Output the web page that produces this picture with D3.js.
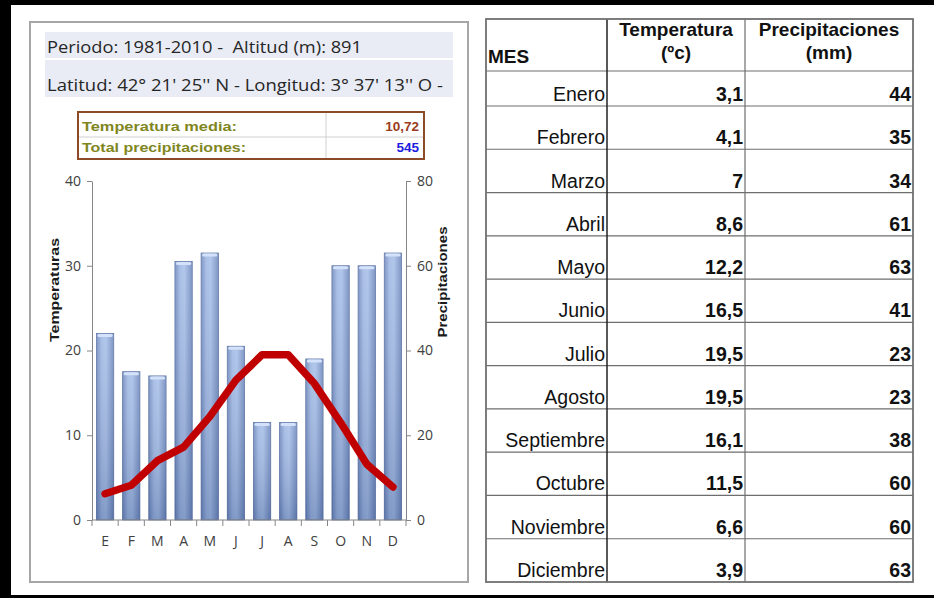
<!DOCTYPE html>
<html><head><meta charset="utf-8">
<script src="https://cdn.jsdelivr.net/npm/d3@7/dist/d3.min.js"></script>
<style>body{margin:0;background:#fff}svg{display:block}text{white-space:pre}</style>
</head><body>
<svg id="c" width="934" height="598"></svg>
<script>
const months = ["E","F","M","A","M ","J","J ","A ","S","O","N","D"];
const monthLabels = ["E","F","M","A","M","J","J","A","S","O","N","D"];
const monthNames = ["Enero","Febrero","Marzo","Abril","Mayo","Junio","Julio","Agosto","Septiembre","Octubre","Noviembre","Diciembre"];
const temperatures = [3.1,4.1,7,8.6,12.2,16.5,19.5,19.5,16.1,11.5,6.6,3.9];
const precipitation = [44,35,34,61,63,41,23,23,38,60,60,63];
const tempTicks = [0,10,20,30,40];
const precTicks = [0,20,40,60,80];
const infoLines = ["Periodo: 1981-2010 -  Altitud (m): 891","Latitud: 42° 21' 25'' N - Longitud: 3° 37' 13'' O -"];
const statLabels = ["Temperatura media:","Total precipitaciones:"];
const statValues = ["10,72","545"];

const svg = d3.select("#c");
const fmt = v => String(v).replace(".", ",");

// outer frame
svg.append("rect").attr("x",0).attr("y",0).attr("width",934).attr("height",5).attr("fill","#000");
svg.append("rect").attr("x",0).attr("y",0).attr("width",11).attr("height",598).attr("fill","#000");
svg.append("rect").attr("x",0).attr("y",595).attr("width",934).attr("height",3).attr("fill","#000");

// left panel
svg.append("rect").attr("x",30).attr("y",22).attr("width",438).attr("height",560)
  .attr("fill","#fff").attr("stroke","#a6a6a6").attr("stroke-width",2);
svg.append("rect").attr("x",45).attr("y",32).attr("width",408).attr("height",26).attr("fill","#e9ecf5");
svg.append("rect").attr("x",45).attr("y",60).attr("width",408).attr("height",37).attr("fill","#e9ecf5");
const infoW = [315,396], infoY = [53,91];
svg.selectAll("text.info").data(infoLines).join("text").attr("class","info")
  .attr("x",47).attr("y",(d,i)=>infoY[i]).attr("textLength",(d,i)=>infoW[i]).attr("lengthAdjust","spacingAndGlyphs")
  .attr("font-family","Open Sans, sans-serif").attr("font-size",16.5).attr("fill","#262626").text(d=>d);

// stats box
svg.append("line").attr("x1",79).attr("x2",424).attr("y1",137).attr("y2",137).attr("stroke","#d0d0d0");
svg.append("line").attr("x1",326).attr("x2",326).attr("y1",113).attr("y2",158).attr("stroke","#d0d0d0");
svg.append("rect").attr("x",78).attr("y",112).attr("width",346).attr("height",47)
  .attr("fill","none").attr("stroke","#8c4a26").attr("stroke-width",2);
const statY = [131,152], statW = [155,164];
svg.selectAll("text.sl").data(statLabels).join("text").attr("class","sl")
  .attr("x",82).attr("y",(d,i)=>statY[i]).attr("textLength",(d,i)=>statW[i]).attr("lengthAdjust","spacingAndGlyphs")
  .attr("font-family","Liberation Sans, Arial, sans-serif").attr("font-weight","bold").attr("font-size",13.5)
  .attr("fill","#80861e").text(d=>d);
svg.selectAll("text.sv").data(statValues).join("text").attr("class","sv")
  .attr("x",419).attr("y",(d,i)=>statY[i]).attr("text-anchor","end")
  .attr("font-family","Liberation Sans, Arial, sans-serif").attr("font-weight","bold").attr("font-size",13.5)
  .attr("fill",(d,i)=>i===0?"#9a3c1c":"#1c1ce0").text(d=>d);

// chart
const x = d3.scaleBand().domain(months).range([92,406]).paddingInner(0.34).paddingOuter(0.17);
const yT = d3.scaleLinear().domain([0,40]).range([520,181]);
const yP = d3.scaleLinear().domain([0,80]).range([520,181]);

const defs = svg.append("defs");
const gh = defs.append("linearGradient").attr("id","gh").attr("x1",0).attr("x2",1).attr("y1",0).attr("y2",0);
gh.append("stop").attr("offset","0%").attr("stop-color","#6f89bd");
gh.append("stop").attr("offset","30%").attr("stop-color","#a0b8e3");
gh.append("stop").attr("offset","55%").attr("stop-color","#a7bfe8");
gh.append("stop").attr("offset","100%").attr("stop-color","#6f89bd");
const gv = defs.append("linearGradient").attr("id","gv").attr("x1",0).attr("x2",0).attr("y1",0).attr("y2",1);
gv.append("stop").attr("offset","0%").attr("stop-color","#ffffff").attr("stop-opacity",0.12);
gv.append("stop").attr("offset","100%").attr("stop-color","#1c3468").attr("stop-opacity",0.25);

const bars = svg.append("g");
const bd = months.map((m,i)=>({m,v:precipitation[i]}));
bars.selectAll("rect.b").data(bd).join("rect").attr("class","b")
  .attr("x",d=>x(d.m)).attr("width",x.bandwidth()).attr("y",d=>yP(d.v)).attr("height",d=>yP(0)-yP(d.v))
  .attr("fill","url(#gh)").attr("stroke","#5b72a3").attr("stroke-width",0.8);
bars.selectAll("rect.o").data(bd).join("rect").attr("class","o")
  .attr("x",d=>x(d.m)).attr("width",x.bandwidth()).attr("y",d=>yP(d.v)).attr("height",d=>yP(0)-yP(d.v))
  .attr("fill","url(#gv)");
bars.selectAll("rect.t").data(bd).join("rect").attr("class","t")
  .attr("x",d=>x(d.m)+1).attr("width",x.bandwidth()-2).attr("y",d=>yP(d.v)+0.5).attr("height",3).attr("rx",1.5)
  .attr("fill","#d3e2fa");

// axes
const axCol = "#868686";
const gl = svg.append("g").attr("transform","translate(92,0)")
  .call(d3.axisLeft(yT).tickValues(tempTicks).tickSize(5).tickSizeOuter(0).tickPadding(6));
const gr = svg.append("g").attr("transform","translate(406,0)")
  .call(d3.axisRight(yP).tickValues(precTicks).tickSize(5).tickSizeOuter(0).tickPadding(6));
const gb = svg.append("g").attr("transform","translate(0,520)")
  .call(d3.axisBottom(x).tickSize(0).tickSizeOuter(0).tickPadding(16).tickFormat((d,i)=>monthLabels[i]));
[gl,gr,gb].forEach(g=>{
  g.selectAll("path,line").attr("stroke",axCol);
  g.selectAll("text").attr("font-family","Open Sans, sans-serif").attr("font-size",14).attr("fill","#404040");
});
gb.select("path.domain").attr("d","M92,0H406");
const bounds = d3.range(months.length+1).map(i=>x.range()[0]+i*x.step());
gb.selectAll("line.bt").data(bounds).join("line").attr("class","bt")
  .attr("x1",d=>d).attr("x2",d=>d).attr("y1",0).attr("y2",6).attr("stroke",axCol);

svg.append("text").attr("transform","translate(59,290) rotate(-90)").attr("text-anchor","middle")
  .attr("textLength",104).attr("lengthAdjust","spacingAndGlyphs")
  .attr("font-family","Liberation Sans, Arial, sans-serif").attr("font-weight","bold").attr("font-size",12.5)
  .attr("fill","#1a1a1a").text("Temperaturas");
svg.append("text").attr("transform","translate(447,282) rotate(-90)").attr("text-anchor","middle")
  .attr("textLength",111).attr("lengthAdjust","spacingAndGlyphs")
  .attr("font-family","Liberation Sans, Arial, sans-serif").attr("font-weight","bold").attr("font-size",12.5)
  .attr("fill","#1a1a1a").text("Precipitaciones");

// temperature line
const line = d3.line().x((d,i)=>x(months[i])+x.bandwidth()/2).y(d=>yT(d));
svg.append("path").datum(temperatures).attr("d",line).attr("fill","none")
  .attr("stroke","#c00000").attr("stroke-width",7.5).attr("stroke-linejoin","round").attr("stroke-linecap","round");

// table
const tL=486, tR=913, tT=19, tB=582, c1=607, c2=745, hB=71, r1B=106;
const rowStep = (tB - r1B)/11;
const rowBottom = i => i===0 ? r1B : r1B + i*rowStep;
const tg = svg.append("g");
tg.selectAll("line.h").data(d3.range(months.length)).join("line").attr("class","h")
  .attr("x1",tL).attr("x2",tR).attr("y1",i=>i===0?hB:rowBottom(i-1)).attr("y2",i=>i===0?hB:rowBottom(i-1))
  .attr("stroke","#6e6e6e").attr("stroke-width",1.2);
tg.append("line").attr("x1",c1).attr("x2",c1).attr("y1",tT).attr("y2",tB).attr("stroke","#222").attr("stroke-width",1.5);
tg.append("line").attr("x1",c2).attr("x2",c2).attr("y1",tT).attr("y2",tB).attr("stroke","#6e6e6e").attr("stroke-width",1.2);
tg.append("rect").attr("x",tL).attr("y",tT).attr("width",tR-tL).attr("height",tB-tT)
  .attr("fill","none").attr("stroke","#707070").attr("stroke-width",1.8);

const ff = "Liberation Sans, Arial, sans-serif";
tg.append("text").attr("x",488).attr("y",63).attr("font-family",ff).attr("font-weight","bold").attr("font-size",19).attr("fill","#111").text("MES");
const hdr = [{x:676,a:"Temperatura",b:"(ºc)"},{x:829,a:"Precipitaciones",b:"(mm)"}];
hdr.forEach(h=>{
  tg.append("text").attr("x",h.x).attr("y",36).attr("text-anchor","middle").attr("font-family",ff).attr("font-weight","bold").attr("font-size",19).attr("fill","#111").text(h.a);
  tg.append("text").attr("x",h.x).attr("y",59).attr("text-anchor","middle").attr("font-family",ff).attr("font-weight","bold").attr("font-size",19).attr("fill","#111").text(h.b);
});
const rows = monthNames.map((n,i)=>({n,t:temperatures[i],p:precipitation[i],i}));
tg.selectAll("text.mn").data(rows).join("text").attr("class","mn")
  .attr("x",c1-2).attr("y",d=>rowBottom(d.i)-5).attr("text-anchor","end")
  .attr("font-family",ff).attr("font-size",19.5).attr("fill","#111").text(d=>d.n);
tg.selectAll("text.tv").data(rows).join("text").attr("class","tv")
  .attr("x",c2-2).attr("y",d=>rowBottom(d.i)-5).attr("text-anchor","end")
  .attr("font-family",ff).attr("font-weight","bold").attr("font-size",19.5).attr("fill","#111").text(d=>fmt(d.t));
tg.selectAll("text.pv").data(rows).join("text").attr("class","pv")
  .attr("x",tR-2).attr("y",d=>rowBottom(d.i)-5).attr("text-anchor","end")
  .attr("font-family",ff).attr("font-weight","bold").attr("font-size",19.5).attr("fill","#111").text(d=>d.p);
</script>
</body></html>
